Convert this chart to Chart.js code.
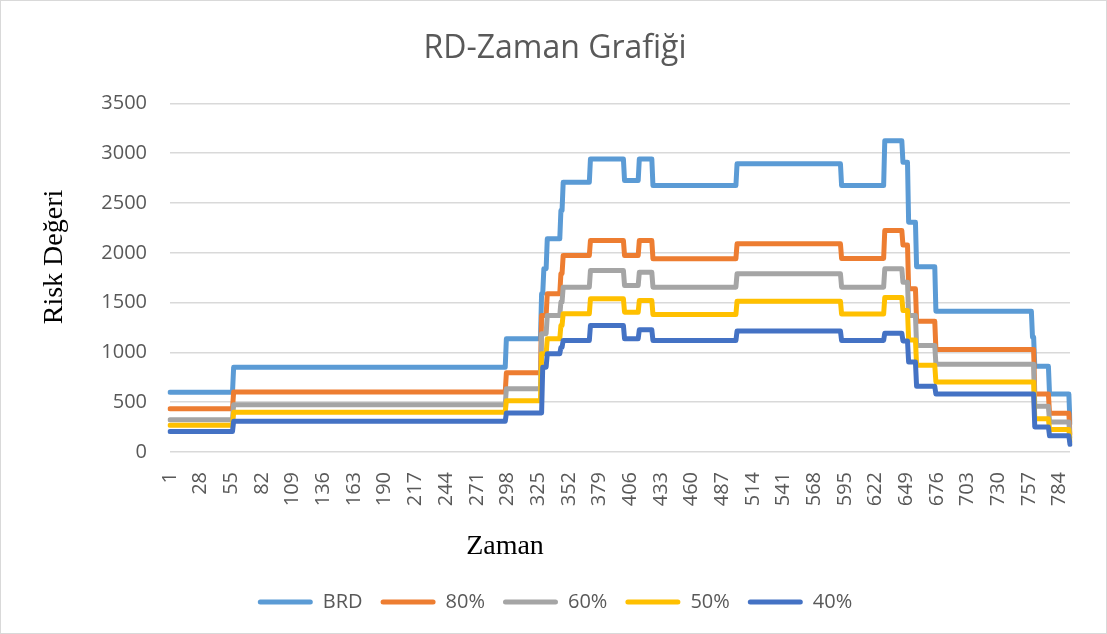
<!DOCTYPE html>
<html>
<head>
<meta charset="utf-8">
<script src="https://cdn.jsdelivr.net/npm/chart.js@4.4.1/dist/chart.umd.min.js"></script>
<style>
  html, body { margin: 0; padding: 0; background: #fff; }
  #wrap { width: 1105px; height: 632px; border: 1px solid #d9d9d9; position: relative; }
  canvas { display: block; }
</style>
</head>
<body>
<div id="wrap"><canvas id="c" width="1105" height="632"></canvas></div>
<script>
// ---- Data ----
const pointCount = 793;                       // time steps 1..793
const tickLabels = ['1','28','55','82','109','136','163','190','217','244','271','298','325','352','379','406','433','460','487','514','541','568','595','622','649','676','703','730','757','784'];
const seriesNames = ['BRD', '80%', '60%', '50%', '40%'];
const seriesColors = ['#5B9BD5', '#ED7D31', '#A5A5A5', '#FFC000', '#4472C4'];

// piecewise-constant series: [first time step, value]
const brdRuns = [[1,600],[57,850],[297,1137],[328,1589],[330,1840],[333,2140],[345,2424],[347,2708],[371,2943],[401,2725],[414,2943],[426,2675],[500,2893],[592,2675],[630,3126],[646,2909],[651,2307],[658,1860],[675,1414],[760,1153],[762,860],[775,582],[793,285]];
const p80Runs = [[1,435],[57,602],[297,795],[328,1371],[333,1589],[345,1790],[347,1973],[371,2123],[401,1973],[414,2123],[426,1940],[500,2090],[592,1943],[630,2224],[646,2078],[651,1639],[658,1312],[675,1030],[762,582],[775,388],[793,184]];
const p60Runs = [[1,325],[57,475],[297,636],[328,1188],[333,1371],[345,1505],[347,1655],[371,1822],[401,1672],[414,1805],[426,1655],[500,1789],[592,1655],[630,1839],[646,1705],[651,1371],[658,1070],[675,880],[762,460],[775,301],[793,150]];
const p50Runs = [[1,268],[57,398],[297,515],[328,987],[333,1137],[345,1271],[347,1388],[371,1539],[401,1404],[414,1521],[426,1381],[500,1514],[592,1385],[630,1552],[646,1421],[651,1125],[658,870],[675,704],[762,335],[775,226],[793,108]];
const p40Runs = [[1,207],[57,308],[297,391],[329,852],[333,987],[345,1050],[347,1120],[371,1271],[401,1137],[414,1228],[426,1120],[500,1214],[592,1120],[630,1193],[646,1115],[651,903],[658,659],[675,582],[762,251],[775,162],[793,77]];
const yTicks = [0, 500, 1000, 1500, 2000, 2500, 3000, 3500];

// ---- Build tables ----
const categories = [];
for (let i = 1; i <= pointCount; i++) categories.push(String(i));
function expandRuns(runs) {
  const out = [];
  let r = 0;
  for (let i = 1; i <= pointCount; i++) {
    while (r + 1 < runs.length && runs[r + 1][0] <= i) r++;
    out.push(runs[r][1]);
  }
  return out;
}
const allRuns = [brdRuns, p80Runs, p60Runs, p50Runs, p40Runs];
const shown = new Set(tickLabels);

const datasets = allRuns.map((runs, k) => ({
  label: seriesNames[k],
  data: expandRuns(runs),
  borderColor: seriesColors[k],
  backgroundColor: seriesColors[k],
  borderWidth: 5,
  pointRadius: 0,
  pointHoverRadius: 0,
  tension: 0,
  borderJoinStyle: 'round',
  borderCapStyle: 'round',
  fill: false,
  order: 5 - k
}));

const axisTitles = {
  id: 'axisTitles',
  afterDraw(chart) {
    const ctx = chart.ctx;
    ctx.save();
    ctx.fillStyle = '#000';
    ctx.font = '28px "Liberation Serif", "Times New Roman", serif';
    ctx.textAlign = 'center';
    ctx.textBaseline = 'middle';
    ctx.fillText('Zaman', 504, 546);
    ctx.translate(54, 256);
    ctx.rotate(-Math.PI / 2);
    ctx.fillText('Risk Değeri', 0, 0);
    ctx.restore();
  }
};

new Chart(document.getElementById('c'), {
  type: 'line',
  data: { labels: categories, datasets },
  plugins: [axisTitles],
  options: {
    responsive: false,
    animation: false,
    events: [],
    layout: { padding: { left: 36, right: 33, top: 0, bottom: 11 } },
    plugins: {
      title: {
        display: true,
        text: 'RD-Zaman Grafiği',
        color: '#595959',
        font: { family: '"Open Sans", sans-serif', size: 32, weight: 'normal' },
        padding: { top: 29, bottom: 35 }
      },
      legend: {
        position: 'bottom',
        labels: {
          color: '#595959',
          font: { family: '"Open Sans", sans-serif', size: 20 },
          boxWidth: 55,
          boxHeight: 5,
          padding: 18,
          useBorderRadius: true,
          borderRadius: 2.5,
          sort: (a, b) => a.datasetIndex - b.datasetIndex,
          generateLabels(chart) {
            const items = Chart.defaults.plugins.legend.labels.generateLabels(chart);
            items.forEach(it => { it.fillStyle = it.strokeStyle; it.lineWidth = 0; });
            return items;
          }
        }
      },
      tooltip: { enabled: false }
    },
    scales: {
      x: {
        type: 'category',
        grid: { display: false },
        border: { display: false },
        ticks: {
          autoSkip: false,
          maxRotation: 90,
          minRotation: 90,
          padding: 12,
          color: '#595959',
          font: { family: '"Open Sans", sans-serif', size: 20 },
          callback(value) {
            const lab = this.getLabelForValue(value);
            return shown.has(lab) ? lab : '';
          }
        },
        afterFit(scale) { scale.height = 122; }
      },
      y: {
        min: yTicks[0],
        max: yTicks[yTicks.length - 1],
        grid: { color: '#d9d9d9', lineWidth: 1.5, drawTicks: false },
        border: { display: false },
        ticks: {
          stepSize: yTicks[1] - yTicks[0],
          padding: 23,
          color: '#595959',
          font: { family: '"Open Sans", sans-serif', size: 20 },
          callback: (v) => String(v)
        },
        afterFit(scale) { scale.width = 133; }
      }
    }
  }
});
</script>
</body>
</html>
